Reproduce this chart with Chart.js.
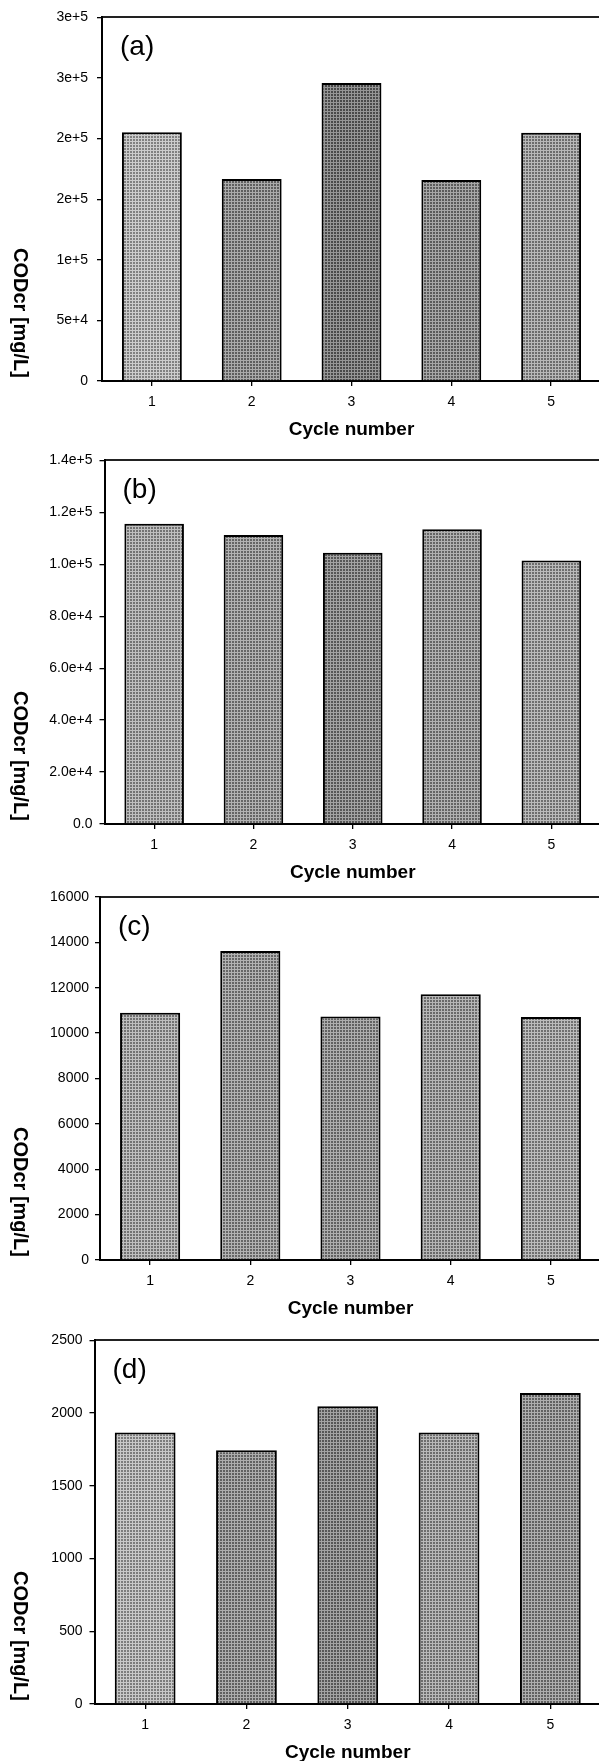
<!DOCTYPE html>
<html>
<head>
<meta charset="utf-8">
<title>CODcr per cycle</title>
<script src="https://cdn.jsdelivr.net/npm/chart.js@4.4.0/dist/chart.umd.min.js"></script>
<style>
  html, body { margin: 0; padding: 0; background: #fff; }
  body { width: 599px; height: 1761px; overflow: hidden; position: relative; }
  .panel { position: absolute; left: 0; }
</style>
</head>
<body>
<canvas id="chartA" class="panel" width="601" height="441" style="top:0px"></canvas>
<canvas id="chartB" class="panel" width="601" height="439" style="top:445px"></canvas>
<canvas id="chartC" class="panel" width="601" height="438" style="top:882px"></canvas>
<canvas id="chartD" class="panel" width="601" height="439" style="top:1325px"></canvas>
<script>
const cycles = ['1', '2', '3', '4', '5'];

// CODcr values [mg/L]
const codA = [205200, 166600, 245900, 165900, 204900];
const codB = [115600, 111300, 104400, 113500, 101500];
const codC = [10900, 13620, 10730, 11710, 10710];
const codD = [1866, 1744, 2047, 1866, 2138];

// y tick labels as printed (panel a rounds 1.5e5 and 2.5e5)
const ticksA = ['0', '5e+4', '1e+5', '2e+5', '2e+5', '3e+5', '3e+5'];
const ticksB = ['0.0', '2.0e+4', '4.0e+4', '6.0e+4', '8.0e+4', '1.0e+5', '1.2e+5', '1.4e+5'];
const ticksC = ['0', '2000', '4000', '6000', '8000', '10000', '12000', '14000', '16000'];
const ticksD = ['0', '500', '1000', '1500', '2000', '2500'];

// grey level of the stipple fill for each bar
const shadesA = [170, 136, 116, 133, 150];
const shadesB = [156, 144, 128, 142, 152];
const shadesC = [156, 144, 140, 148, 154];
const shadesD = [166, 138, 128, 150, 140];

const FONT = '"Liberation Sans", Arial, Helvetica, sans-serif';
Chart.defaults.font.family = FONT;
Chart.defaults.color = '#000';

function stipple(level) {
    const tile = document.createElement('canvas');
    tile.width = 3;
    tile.height = 3;
    const t = tile.getContext('2d');
    const base = level - 42;
    const light = Math.min(255, base + 76);
    t.fillStyle = `rgb(${base},${base},${base})`;
    t.fillRect(0, 0, 3, 3);
    t.fillStyle = `rgb(${light},${light},${light})`;
    t.fillRect(0, 0, 3, 1);
    t.fillRect(0, 0, 1, 3);
    return t.createPattern(tile, 'repeat');
}

// panel tag "(a)" and the clockwise y title
const panelText = {
    id: 'panelText',
    afterDraw(chart, args, opts) {
        const { ctx, chartArea } = chart;
        ctx.save();
        ctx.fillStyle = '#000';
        ctx.font = '28px ' + FONT;
        ctx.textAlign = 'left';
        ctx.textBaseline = 'middle';
        ctx.fillText(opts.tag, chartArea.left + 18, chartArea.top + 30);
        ctx.translate(20, chartArea.bottom - 3);
        ctx.rotate(Math.PI / 2);
        ctx.font = 'bold 20px ' + FONT;
        ctx.textAlign = 'right';
        ctx.fillText('CODcr [mg/L]', 0, 0);
        ctx.restore();
    }
};

const panels = [
    { id: 'chartA', tag: '(a)', values: codA, ticks: ticksA, shades: shadesA, max: 300000, step: 50000, left: 102, pad: 9 },
    { id: 'chartB', tag: '(b)', values: codB, ticks: ticksB, shades: shadesB, max: 140000, step: 20000, left: 104.5, pad: 7 },
    { id: 'chartC', tag: '(c)', values: codC, ticks: ticksC, shades: shadesC, max: 16000, step: 2000, left: 100, pad: 6 },
    { id: 'chartD', tag: '(d)', values: codD, ticks: ticksD, shades: shadesD, max: 2500, step: 500, left: 94.5, pad: 7 }
];

panels.forEach(p => {
    new Chart(document.getElementById(p.id), {
        type: 'bar',
        data: {
            labels: cycles,
            datasets: [{
                data: p.values,
                backgroundColor: p.shades.map(stipple),
                borderColor: '#000',
                borderWidth: 2,
                categoryPercentage: 0.6,
                barPercentage: 1
            }]
        },
        options: {
            responsive: false,
            animation: false,
            layout: { padding: { top: 15, left: 0, right: 0, bottom: 0 } },
            plugins: {
                legend: { display: false },
                tooltip: { enabled: false },
                panelText: { tag: p.tag }
            },
            scales: {
                x: {
                    position: 'bottom',
                    offset: true,
                    grid: { offset: false, drawOnChartArea: false, color: '#000', tickLength: 5, lineWidth: 1.3 },
                    border: { color: '#000', width: 2 },
                    ticks: { font: { size: 14 }, padding: 8, color: '#000' },
                    title: {
                        display: true,
                        text: 'Cycle number',
                        font: { size: 19, weight: 'bold' },
                        padding: { top: 0, bottom: 0 },
                        color: '#000'
                    },
                    afterFit: s => { s.height = 60; }
                },
                xTop: {
                    type: 'category',
                    position: 'top',
                    grid: { display: false },
                    ticks: { display: false },
                    border: { color: '#222', width: 2 },
                    afterFit: s => { s.height = 0; }
                },
                y: {
                    min: 0,
                    max: p.max,
                    ticks: {
                        stepSize: p.step,
                        autoSkip: false,
                        callback: (v, i) => p.ticks[i],
                        font: { size: 14 },
                        padding: p.pad,
                        color: '#000'
                    },
                    grid: { drawOnChartArea: false, color: '#000', tickLength: 5, lineWidth: 1.3 },
                    border: { color: '#000', width: 2 },
                    afterFit: s => { s.width = p.left; }
                }
            }
        },
        plugins: [panelText]
    });
});
</script>
</body>
</html>
